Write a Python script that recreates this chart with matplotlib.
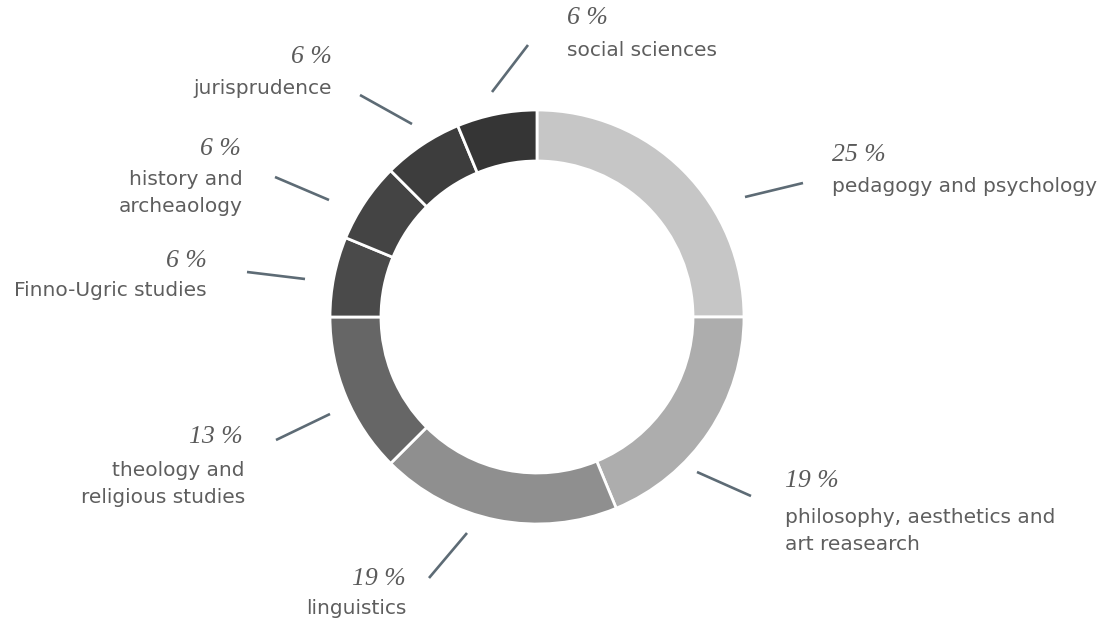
import matplotlib.pyplot as plt

# Anteile (in Sechzehnteln, gerundet als % beschriftet)
categories = ['pedagogy and psychology', 'philosophy, aesthetics and\nart reasearch',
              'linguistics', 'theology and\nreligious studies', 'Finno-Ugric studies',
              'history and\narcheaology', 'jurisprudence', 'social sciences']
shares = [4, 3, 3, 2, 1, 1, 1, 1]
pct_labels = ['25 %', '19 %', '19 %', '13 %', '6 %', '6 %', '6 %', '6 %']
colors = ['#c6c6c6', '#adadad', '#8f8f8f', '#666666', '#4a4a4a', '#444444', '#3d3d3d', '#353535']

# Beschriftungspositionen (Pixel im Bild): Prozent, Text, Ausrichtung
pct_pos = [(832, 155), (785, 481), (406, 579), (243, 437), (207, 261), (241, 149), (332, 57), (567, 18)]
txt_pos = [(832, 187), (785, 531), (406, 609), (245, 484), (207, 291), (243, 193), (332, 88), (567, 51)]
align = ['left', 'left', 'right', 'right', 'right', 'right', 'right', 'left']
leaders = [((745, 197), (803, 183)), ((697, 472), (751, 496)), ((429, 578), (467, 533)),
           ((276, 440), (330, 414)), ((247, 272), (305, 279)), ((275, 177), (329, 200)),
           ((360, 95), (412, 124)), ((492, 92), (528, 45))]

W, H = 1118, 626
fig = plt.figure(figsize=(W / 100, H / 100), dpi=100)
ax = fig.add_axes([0, 0, 1, 1])

# y-Achse invertiert -> startangle -90 ist oben, counterclock=True läuft im Bild im Uhrzeigersinn
ax.pie(shares, colors=colors, startangle=-90, counterclock=True,
       center=(537, 317), radius=207, frame=True,
       wedgeprops=dict(width=51, edgecolor='white', linewidth=2))
ax.set_xlim(0, W)
ax.set_ylim(H, 0)
ax.set_aspect('auto')
ax.axis('off')

for (p0, p1) in leaders:
    ax.plot([p0[0], p1[0]], [p0[1], p1[1]], color='#5d6b75', lw=1.9, solid_capstyle='butt')

for i in range(len(categories)):
    ax.text(pct_pos[i][0], pct_pos[i][1], pct_labels[i], ha=align[i], va='center',
            fontsize=18.5, family='Liberation Serif', style='italic', color='#5a5a5a')
    ax.text(txt_pos[i][0], txt_pos[i][1], categories[i], ha=align[i], va='center',
            fontsize=14.5, family='DejaVu Sans', color='#5e5e5e', linespacing=1.52,
            multialignment=align[i])

fig.savefig('out.png', dpi=100)
